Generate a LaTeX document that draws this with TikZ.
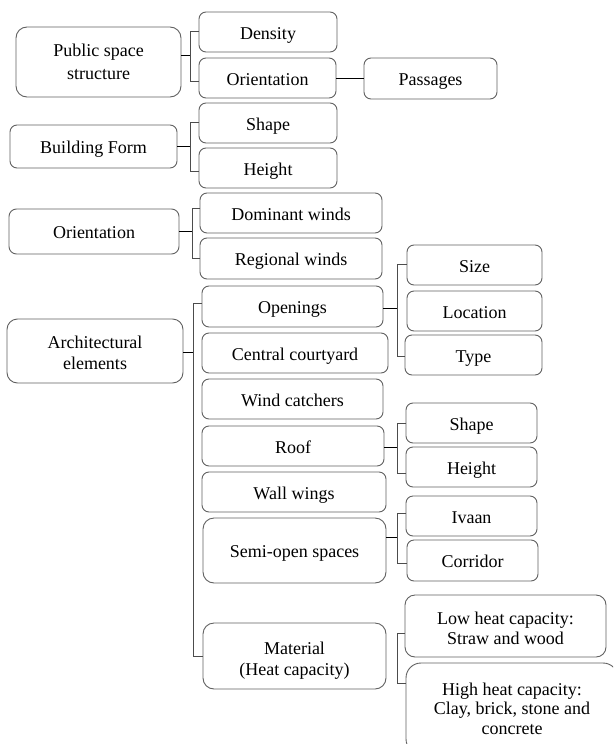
\documentclass[tikz,border=0pt]{standalone}
\usepackage{fontspec}
\setmainfont{Liberation Serif}
\begin{document}
\begin{tikzpicture}[x=1pt,y=-1pt,
  bx/.style={draw=black!62, line width=0.9pt, rounded corners=7, align=center,
    inner sep=0pt, outer sep=0pt, font=\fontsize{18}{21}\selectfont},
  one/.style={text height=14pt, text depth=0pt},
  pl/.style={black, line width=0.9pt},
  br/.style={black!70, line width=0.8pt}]
\newcommand\bx[7][]{\node[bx,#1,minimum width={#5-#3},minimum height={#6-#4}] (#2) at ({(#3+#5)/2},{(#4+#6)/2}) {#7};}
\path[use as bounding box, clip] (0,0) rectangle (613,744);
\fill[white] (0,0) rectangle (613,744);
% boxes
\bx[rounded corners=11, font=\fontsize{18}{22.7}\selectfont]{pss}{16}{27}{181}{97}{Public space\\structure}
\bx[one]{den}{199}{12}{337}{52}{Density}
\bx[one]{ori1}{199}{58}{336}{98}{Orientation}
\bx[one]{pas}{364}{58}{497}{99}{Passages}
\bx[one]{bf}{10}{125}{177}{168}{Building Form}
\bx[one]{shpa}{199}{103}{337}{143}{Shape}
\bx[one]{hgta}{199}{148}{337}{188}{Height}
\bx[one, rounded corners=7.5]{ori}{9}{209}{179}{254}{Orientation}
\bx[one]{dom}{200}{193}{382}{233}{Dominant winds}
\bx[one]{reg}{200}{238}{382}{279}{Regional winds}
\bx[rounded corners=10.5]{arch}{7}{319}{183}{383}{\rule{0pt}{17pt}Architectural\\elements}
\bx[one]{opn}{202}{286}{383}{327}{Openings}
\bx[one]{cc}{202}{333}{388}{373}{Central courtyard}
\bx[one]{size}{407}{245}{542}{285}{Size}
\bx[one]{loc}{407}{291}{542}{331}{Location}
\bx[one]{type}{405}{335}{542}{375}{Type}
\bx[one]{wc}{202}{379}{383}{419}{Wind catchers}
\bx[one]{roof}{202}{426}{384}{466}{Roof}
\bx[one]{shpb}{406}{403}{537}{443}{Shape}
\bx[one]{hgtb}{406}{447}{537}{487}{Height}
\bx[one]{ww}{202}{472}{386}{512}{Wall wings}
\bx[one, rounded corners=11]{sos}{203}{518}{386}{583}{Semi-open spaces}
\bx[one]{iv}{406}{496}{537}{536}{Ivaan}
\bx[one]{cor}{407}{540}{538}{581}{Corridor}
\bx[rounded corners=11]{mat}{203}{623}{386}{689}{\rule{0pt}{21pt}Material\\(Heat capacity)}
\bx[rounded corners=10, font=\fontsize{18}{20}\selectfont]{low}{405}{595}{606}{657}{\rule{0pt}{18pt}Low heat capacity:\\Straw and wood}
\bx[rounded corners=15, font=\fontsize{18}{19.5}\selectfont]{high}{406}{663}{618}{754}{High heat capacity:\\Clay, brick, stone and\\concrete}
% bracket spines
\coordinate (s1m) at (190,55);  \coordinate (s1t) at (190,31);  \coordinate (s1b) at (190,81);
\coordinate (s2m) at (190,146); \coordinate (s2t) at (190,122); \coordinate (s2b) at (190,171);
\coordinate (s3m) at (192,231); \coordinate (s3t) at (192,208); \coordinate (s3b) at (192,258);
\coordinate (s4m) at (193,352); \coordinate (s4t) at (193,303); \coordinate (s4b) at (193,656);
\coordinate (s5m) at (397,308); \coordinate (s5t) at (397,264); \coordinate (s5b) at (397,356);
\coordinate (s6m) at (397,447); \coordinate (s6t) at (397,423); \coordinate (s6b) at (397,473);
\coordinate (s7m) at (397,537); \coordinate (s7t) at (397,513); \coordinate (s7b) at (397,563);
\coordinate (s8t) at (397,633); \coordinate (s8b) at (397,683);
% connectors
\draw[pl] (pss.east |- s1m) -- (s1m);
\draw[br] (den.west |- s1t) -- (s1t) -- (s1b) -- (ori1.west |- s1b);
\draw[pl] (ori1.east) -- (pas.west |- ori1.east);
\draw[pl] (bf.east |- s2m) -- (s2m);
\draw[br] (shpa.west |- s2t) -- (s2t) -- (s2b) -- (hgta.west |- s2b);
\draw[pl] (ori.east |- s3m) -- (s3m);
\draw[br] (dom.west |- s3t) -- (s3t) -- (s3b) -- (reg.west |- s3b);
\draw[pl] (arch.east |- s4m) -- (s4m);
\draw[br] (opn.west |- s4t) -- (s4t) -- (s4b) -- (mat.west |- s4b);
\draw[pl] (opn.east |- s5m) -- (s5m);
\draw[br] (size.west |- s5t) -- (s5t) -- (s5b) -- (type.west |- s5b);
\draw[pl] (roof.east |- s6m) -- (s6m);
\draw[br] (shpb.west |- s6t) -- (s6t) -- (s6b) -- (hgtb.west |- s6b);
\draw[pl] (sos.east |- s7m) -- (s7m);
\draw[br] (iv.west |- s7t) -- (s7t) -- (s7b) -- (cor.west |- s7b);
\draw[br] (low.west |- s8t) -- (s8t) -- (s8b) -- (high.west |- s8b);
\end{tikzpicture}
\end{document}
